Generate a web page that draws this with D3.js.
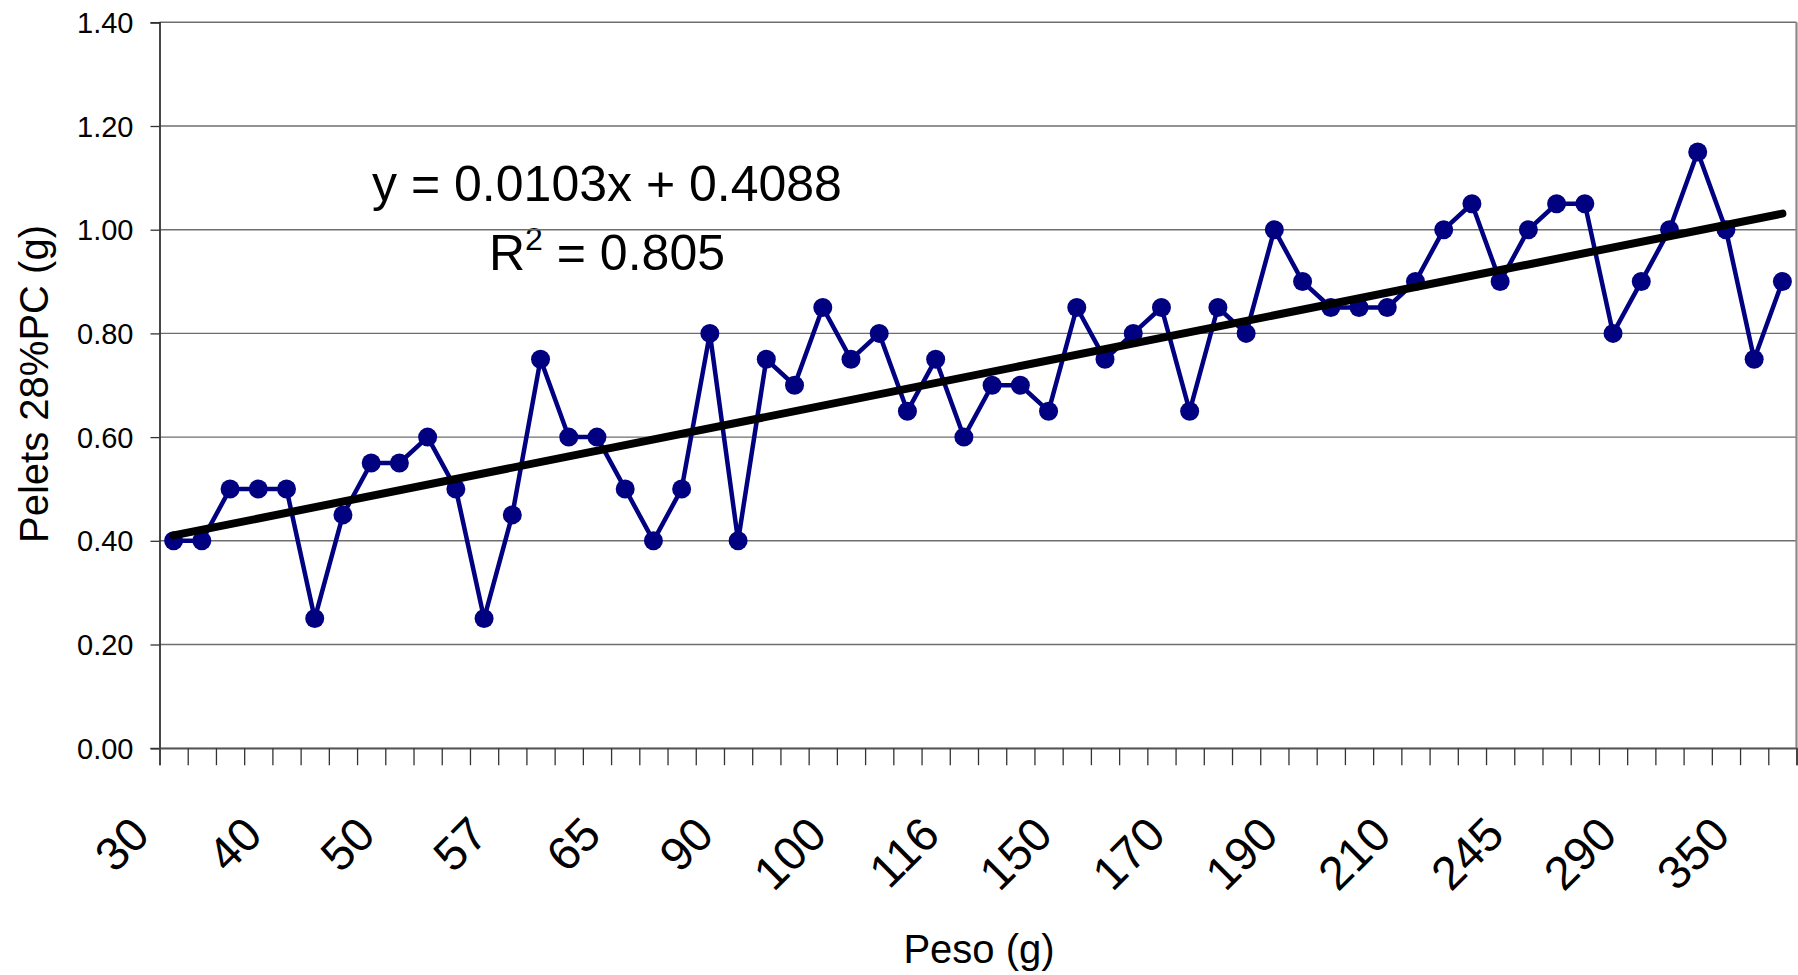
<!DOCTYPE html>
<html>
<head>
<meta charset="utf-8">
<script src="https://cdn.jsdelivr.net/npm/d3@7"></script>
<style>
  html, body { margin: 0; padding: 0; background: #fff; }
  svg { display: block; font-family: "Liberation Sans", Arial, sans-serif; }
</style>
</head>
<body>
<svg id="chart" width="1798" height="975"></svg>
<script>
// ---- data ----
const pelets = [
  0.40, 0.40, 0.50, 0.50, 0.50, 0.25, 0.45, 0.55, 0.55, 0.60,
  0.50, 0.25, 0.45, 0.75, 0.60, 0.60, 0.50, 0.40, 0.50, 0.80,
  0.40, 0.75, 0.70, 0.85, 0.75, 0.80, 0.65, 0.75, 0.60, 0.70,
  0.70, 0.65, 0.85, 0.75, 0.80, 0.85, 0.65, 0.85, 0.80, 1.00,
  0.90, 0.85, 0.85, 0.85, 0.90, 1.00, 1.05, 0.90, 1.00, 1.05,
  1.05, 0.80, 0.90, 1.00, 1.15, 1.00, 0.75, 0.90
];
// visible category labels (every 4th category)
const pesoLabels = ["30", "40", "50", "57", "65", "90", "100", "116", "150", "170", "190", "210", "245", "290", "350"];
const labelStep = 4;
const yTicks = [0, 0.2, 0.4, 0.6, 0.8, 1.0, 1.2, 1.4];
const equationText = "y = 0.0103x + 0.4088";
const r2Value = "0.805";
const xTitle = "Peso (g)";
const yTitle = "Pelets 28%PC (g)";

// ---- layout ----
const svg = d3.select("#chart");
const plotL = 159.5, plotR = 1796.5, plotT = 22.3, plotB = 748.2;

const x = d3.scaleBand().domain(d3.range(pelets.length)).range([plotL, plotR]).padding(0);
const cx = i => x(i) + x.bandwidth() / 2;
const y = d3.scaleLinear().domain([0, 1.4]).range([plotB, plotT]);

// equation label (drawn beneath the gridlines, as in the reference)
const eq = svg.append("g").attr("font-size", 50).attr("fill", "#000").attr("text-anchor", "middle");
eq.append("text").attr("x", 607).attr("y", 201).text(equationText);
const r2 = eq.append("text").attr("x", 607).attr("y", 270);
r2.append("tspan").text("R");
r2.append("tspan").attr("font-size", 32).attr("dy", -20).text("2");
r2.append("tspan").attr("dy", 20).text(" = " + r2Value);

// gridlines
svg.append("g").selectAll("line").data(yTicks).join("line")
  .attr("x1", plotL).attr("x2", plotR)
  .attr("y1", d => y(d)).attr("y2", d => y(d))
  .attr("stroke", "#6e6e6e").attr("stroke-width", 1.4);

// right border
svg.append("line").attr("x1", plotR).attr("x2", plotR).attr("y1", plotT).attr("y2", plotB)
  .attr("stroke", "#8a8a8a").attr("stroke-width", 2.2);

// y axis
const yAxis = d3.axisLeft(y).tickValues(yTicks).tickFormat(d3.format(".2f")).tickSize(9).tickPadding(17);
const gy = svg.append("g").attr("transform", `translate(${plotL},0)`).call(yAxis);
gy.select(".domain").attr("stroke", "#333").attr("stroke-width", 1.8);
gy.selectAll(".tick line").attr("stroke", "#333").attr("stroke-width", 1.3);
gy.selectAll(".tick text").attr("font-size", 29).attr("font-family", "Liberation Sans, Arial, sans-serif")
  .attr("fill", "#000").attr("dy", "0.35em");

// x axis: tick marks at category boundaries
const xEdges = d3.scaleLinear().domain([0, pelets.length]).range([plotL, plotR]);
const xAxis = d3.axisBottom(xEdges).tickValues(d3.range(0, pelets.length + 1)).tickSize(17).tickFormat("");
const gx = svg.append("g").attr("transform", `translate(0,${plotB})`).call(xAxis);
gx.select(".domain").attr("stroke", "#555").attr("stroke-width", 1.8);
gx.selectAll(".tick line").attr("stroke", "#333").attr("stroke-width", 1.3);

// x category labels, rotated
svg.append("g").selectAll("text").data(pesoLabels).join("text")
  .attr("transform", (d, k) => `translate(${cx(k * labelStep) - 22},${plotB + 89}) rotate(-45)`)
  .attr("text-anchor", "end")
  .attr("font-size", 47)
  .attr("fill", "#000")
  .text(d => d);

// axis titles
svg.append("text").attr("x", 979).attr("y", 963).attr("text-anchor", "middle")
  .attr("font-size", 40).attr("fill", "#000").text(xTitle);
svg.append("text").attr("transform", `translate(48,384) rotate(-90)`).attr("text-anchor", "middle")
  .attr("font-size", 40).attr("fill", "#000").text(yTitle);

// series line + markers
const line = d3.line().x((d, i) => cx(i)).y(d => y(d));
svg.append("path").datum(pelets).attr("d", line)
  .attr("fill", "none").attr("stroke", "#000080").attr("stroke-width", 4.5).attr("stroke-linejoin", "round");
svg.append("g").selectAll("circle").data(pelets).join("circle")
  .attr("cx", (d, i) => cx(i)).attr("cy", d => y(d)).attr("r", 9.5)
  .attr("fill", "#000080");

// linear trend (least squares over category index)
const n = pelets.length;
const xs = d3.range(1, n + 1);
const mx = d3.mean(xs), my = d3.mean(pelets);
const slope = d3.sum(xs, (xi, i) => (xi - mx) * (pelets[i] - my)) / d3.sum(xs, xi => (xi - mx) ** 2);
const intercept = my - slope * mx;
const trend = [1, n].map(xi => ({ i: xi - 1, v: intercept + slope * xi }));
svg.append("path").datum(trend)
  .attr("d", d3.line().x(d => cx(d.i)).y(d => y(d.v)))
  .attr("stroke", "#000").attr("stroke-width", 8).attr("stroke-linecap", "round").attr("fill", "none");
</script>
</body>
</html>
